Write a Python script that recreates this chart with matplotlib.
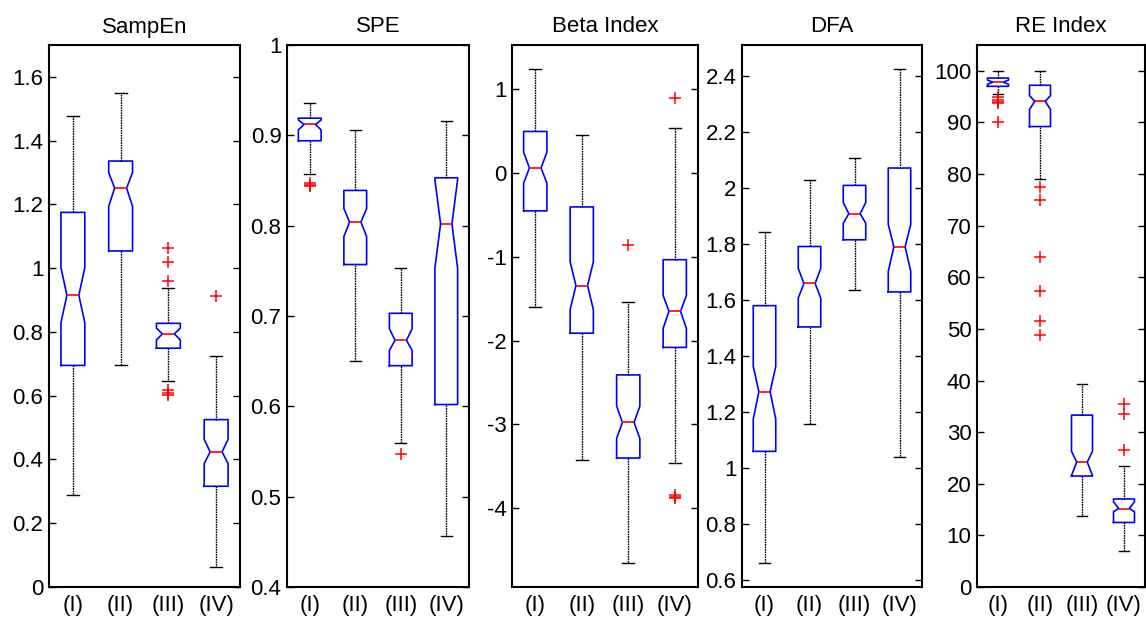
import matplotlib
matplotlib.use("Agg")
import matplotlib.pyplot as plt

plt.rcParams['font.family'] = ['Liberation Sans', 'DejaVu Sans']

groups = ["(I)", "(II)", "(III)", "(IV)"]
titles = ["SampEn", "SPE", "Beta Index", "DFA", "RE Index"]

# ---- SampEn ----
sampen_whishi = [1.476, 1.550, 0.939, 0.723]
sampen_q3 = [1.175, 1.336, 0.827, 0.525]
sampen_cihi = [1.002, 1.300, 0.812, 0.463]
sampen_med = [0.915, 1.251, 0.794, 0.424]
sampen_cilo = [0.829, 1.194, 0.775, 0.387]
sampen_q1 = [0.695, 1.054, 0.749, 0.316]
sampen_whislo = [0.289, 0.697, 0.645, 0.064]
sampen_fliers = [[], [], [1.062, 1.020, 0.961, 0.617, 0.610, 0.603], [0.912]]

# ---- SPE ----
spe_whishi = [0.936, 0.906, 0.753, 0.916]
spe_q3 = [0.919, 0.839, 0.703, 0.853]
spe_cihi = [0.917, 0.819, 0.686, 0.851]
spe_med = [0.912, 0.804, 0.673, 0.802]
spe_cilo = [0.906, 0.788, 0.662, 0.753]
spe_q1 = [0.894, 0.757, 0.645, 0.602]
spe_whislo = [0.857, 0.650, 0.559, 0.456]
spe_fliers = [[0.847, 0.845, 0.844], [], [0.547], []]

# ---- Beta Index ----
beta_whishi = [1.242, 0.460, -1.540, 0.540]
beta_q3 = [0.498, -0.403, -2.408, -1.033]
beta_cihi = [0.251, -1.057, -2.780, -1.460]
beta_med = [0.062, -1.341, -2.976, -1.649]
beta_cilo = [-0.118, -1.630, -3.166, -1.853]
beta_q1 = [-0.450, -1.910, -3.400, -2.080]
beta_whislo = [-1.592, -3.427, -4.649, -3.455]
beta_fliers = [[], [], [-0.853], [0.896, -3.845, -3.860, -3.875]]

# ---- DFA ----
dfa_whishi = [1.843, 2.029, 2.108, 2.425]
dfa_q3 = [1.580, 1.791, 2.009, 2.071]
dfa_cihi = [1.363, 1.713, 1.948, 1.870]
dfa_med = [1.273, 1.659, 1.908, 1.790]
dfa_cilo = [1.175, 1.607, 1.874, 1.702]
dfa_q1 = [1.060, 1.504, 1.815, 1.629]
dfa_whislo = [0.663, 1.157, 1.635, 1.039]
dfa_fliers = [[], [], [], []]

# ---- RE Index ----
re_whishi = [100.0, 100.0, 39.3, 23.4]
re_q3 = [98.6, 97.2, 33.3, 17.05]
re_cihi = [98.2, 95.2, 26.3, 16.5]
re_med = [97.8, 94.1, 24.2, 15.2]
re_cilo = [97.4, 92.5, 21.6, 14.6]
re_q1 = [97.0, 89.2, 21.5, 12.5]
re_whislo = [95.6, 79.0, 13.8, 6.9]
re_fliers = [[94.9, 94.4, 94.0, 93.7, 90.0], [77.4, 75.0, 64.0, 57.4, 51.6, 48.8], [], [35.5, 33.6, 26.5]]

panels = [
    (sampen_whislo, sampen_q1, sampen_cilo, sampen_med, sampen_cihi, sampen_q3, sampen_whishi, sampen_fliers),
    (spe_whislo, spe_q1, spe_cilo, spe_med, spe_cihi, spe_q3, spe_whishi, spe_fliers),
    (beta_whislo, beta_q1, beta_cilo, beta_med, beta_cihi, beta_q3, beta_whishi, beta_fliers),
    (dfa_whislo, dfa_q1, dfa_cilo, dfa_med, dfa_cihi, dfa_q3, dfa_whishi, dfa_fliers),
    (re_whislo, re_q1, re_cilo, re_med, re_cihi, re_q3, re_whishi, re_fliers),
]

ylims = [(0, 1.7), (0.4, 1.0), (-4.94, 1.53), (0.576, 2.51), (0, 105)]
yticks = [
    [0, 0.2, 0.4, 0.6, 0.8, 1, 1.2, 1.4, 1.6],
    [0.4, 0.5, 0.6, 0.7, 0.8, 0.9, 1],
    [-4, -3, -2, -1, 0, 1],
    [0.6, 0.8, 1, 1.2, 1.4, 1.6, 1.8, 2, 2.2, 2.4],
    [0, 10, 20, 30, 40, 50, 60, 70, 80, 90, 100],
]

W, H = 1146, 620
axes_px = [(49, 240), (287, 469), (512, 698), (742, 922), (977, 1145)]
top_px, bot_px = 45, 587

fig = plt.figure(figsize=(W / 100, H / 100), dpi=100)

FS = 16

for i, (stats_lists, title) in enumerate(zip(panels, titles)):
    l, r = axes_px[i]
    ax = fig.add_axes([l / W, 1 - bot_px / H, (r - l) / W, (bot_px - top_px) / H])
    wl, q1, cl, md, ch, q3, wh, fl = stats_lists
    stats = []
    for k in range(len(groups)):
        stats.append(dict(med=md[k], q1=q1[k], q3=q3[k], whislo=wl[k], whishi=wh[k],
                          cilo=cl[k], cihi=ch[k], fliers=fl[k], label=groups[k]))
    ax.bxp(stats, positions=[1, 2, 3, 4], widths=0.5, shownotches=True, showfliers=True,
           boxprops=dict(color='#0000ff', linewidth=1.2),
           medianprops=dict(color='#ff0000', linewidth=1.2),
           whiskerprops=dict(color='black', linewidth=1.0, linestyle=(0, (1.2, 0.6))),
           capprops=dict(color='black', linewidth=1.0),
           flierprops=dict(marker='+', markeredgecolor='#ff0000', markersize=9,
                           markeredgewidth=1.1, linestyle='none'))
    ax.set_xlim(0.5, 4.5)
    ax.set_ylim(*ylims[i])
    ax.set_yticks(yticks[i])
    ax.set_yticklabels(["%g" % v for v in yticks[i]])
    ax.set_xticks([1, 2, 3, 4])
    ax.set_xticklabels(groups)
    ax.tick_params(axis='y', direction='in', length=5, width=1.0, right=True,
                   labelsize=FS, pad=4)
    ax.tick_params(axis='x', length=0, labelsize=FS, pad=6)
    for sp in ax.spines.values():
        sp.set_linewidth(1.5)
    ax.set_title(title, fontsize=FS, pad=9)

fig.savefig("out.png", dpi=100)
